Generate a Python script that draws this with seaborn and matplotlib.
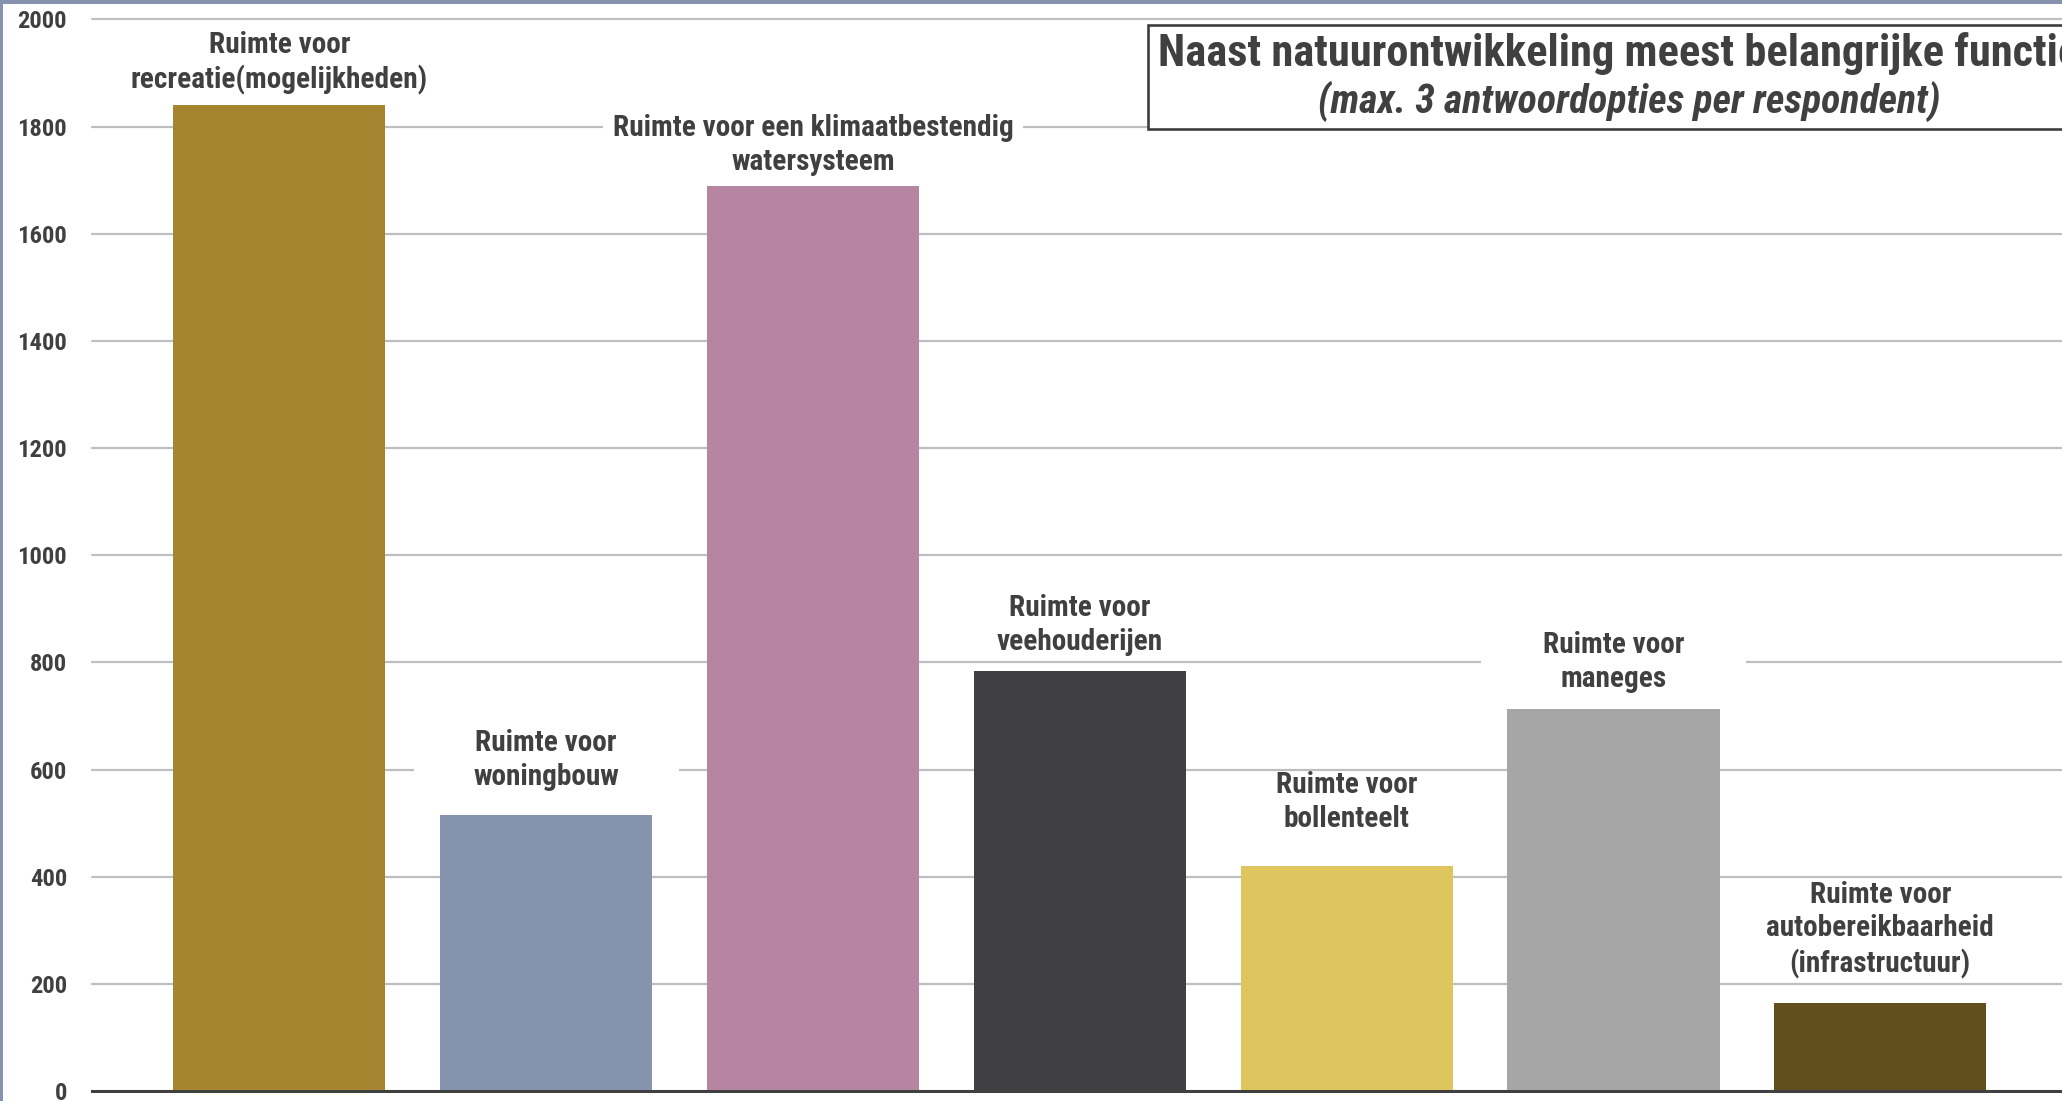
import numpy as np
import pandas as pd
import matplotlib
matplotlib.use("Agg")
import matplotlib.pyplot as plt
import seaborn as sns
from matplotlib import font_manager as fm
from matplotlib.path import Path
from matplotlib.patches import Rectangle

# ---------------- data ----------------
categories = [
    "Ruimte voor\nrecreatie(mogelijkheden)",
    "Ruimte voor\nwoningbouw",
    "Ruimte voor een klimaatbestendig\nwatersysteem",
    "Ruimte voor\nveehouderijen",
    "Ruimte voor\nbollenteelt",
    "Ruimte voor\nmaneges",
    "Ruimte voor\nautobereikbaarheid\n(infrastructuur)",
]
values = [1840, 516, 1690, 784, 420, 713, 165]
bar_colors = ["#A68531", "#8593AE", "#B685A2", "#404042", "#DEC55E", "#A6A6A7", "#614F1F"]
y_ticks = [0, 200, 400, 600, 800, 1000, 1200, 1400, 1600, 1800, 2000]
y_tick_labels = ["0", "200", "400", "600", "800", "1000", "1200", "1400", "1600", "1800", "2000"]
title = "Naast natuurontwikkeling meest belangrijke functies"
subtitle = "(max. 3 antwoordopties per respondent)"

# ---------------- style ----------------
W, H, DPI = 2062, 1101, 100
TEXT = "#404040"
GRID = "#BEBEC2"
FRAME = "#8593AE"
label_gaps_px = [10, 24, 10, 15, 33, 16, 24]   # gap between bar top and its label

sns.set_theme(style="white")
names = {f.name for f in fm.fontManager.ttflist}
narrow = None
for cand in ["Roboto Condensed", "Liberation Sans Narrow", "DejaVu Sans"]:
    if cand in names:
        narrow = cand
        break
plt.rcParams["font.family"] = [narrow, "DejaVu Sans"]

px = 72.0 / DPI  # points per pixel

fig = plt.figure(figsize=(W / DPI, H / DPI), dpi=DPI, facecolor="white")
ax = fig.add_axes([92 / W, 10 / H, (W - 92) / W, (1091 - 19.5) / H])

df = pd.DataFrame({"cat": categories, "val": values})
sns.barplot(data=df, x="cat", y="val", hue="cat", palette=bar_colors,
            legend=False, width=0.795, saturation=1, linewidth=0, ax=ax, zorder=2)

ax.set_xlim(-0.702, 6.681)
ax.set_ylim(0, 2000)
ax.set_xticks([])
ax.set_xlabel("")
ax.set_ylabel("")
ax.set_yticks(y_ticks)
ax.set_yticklabels(y_tick_labels)
ax.tick_params(axis="y", length=0, pad=25 * px, labelsize=24.5 * px, labelcolor=TEXT)
for t in ax.get_yticklabels():
    t.set_fontweight("bold")
ax.set_axisbelow(True)
ax.yaxis.grid(True, color=GRID, linewidth=2.2 * px)
for gl in ax.get_ygridlines():
    gl.set_clip_on(False)
for s in ["left", "right", "top"]:
    ax.spines[s].set_visible(False)
ax.spines["bottom"].set_color(TEXT)
ax.spines["bottom"].set_linewidth(3 * px)
ax.spines["bottom"].set_zorder(5)
ax.patch.set_alpha(0)

MIN_BOX = 265.0


def wide_box(x0, y0, width, height, mutation_size):
    padx = 10.0
    w = max(width + 2 * padx, MIN_BOX)
    cx = x0 + width / 2.0
    l, r = cx - w / 2.0, cx + w / 2.0
    b, t = y0 + 2.0, y0 + height - 6.0
    return Path([(l, b), (r, b), (r, t), (l, t), (l, b)],
                [Path.MOVETO, Path.LINETO, Path.LINETO, Path.LINETO, Path.CLOSEPOLY])


bars = [p for p in ax.patches]
for p, lab, gap in zip(bars, categories, label_gaps_px):
    cx = p.get_x() + p.get_width() / 2.0
    top = p.get_height()
    ax.annotate(lab, xy=(cx, top), xytext=(0, gap * px), textcoords="offset points",
                ha="center", va="bottom", multialignment="center",
                fontsize=29.3 * px, fontweight="bold", color=TEXT, linespacing=1.26,
                bbox=dict(boxstyle=wide_box, facecolor="white", edgecolor="none"),
                zorder=4, annotation_clip=False)

# title box
box_l, box_t, box_b, box_r = 1148, 25, 129, 2110
fig.add_artist(Rectangle((box_l / W, 1 - box_b / H), (box_r - box_l) / W, (box_b - box_t) / H,
                         transform=fig.transFigure, facecolor="white", edgecolor="#3C3C3C",
                         linewidth=2.6 * px, zorder=10))
t1 = fig.text(1629 / W, 1 - 66 / H, title, ha="center", va="baseline", color=TEXT,
              fontweight="bold", fontsize=20, zorder=11)
t2 = fig.text(1629 / W, 1 - 113 / H, subtitle, ha="center", va="baseline", color=TEXT,
              fontweight="bold", fontstyle="italic", fontsize=20, zorder=11)
r = fig.canvas.get_renderer()
for t, target in [(t1, 938.0), (t2, 622.0)]:
    w = t.get_window_extent(renderer=r).width
    t.set_fontsize(20 * target / w)

# frame bands (top and left)
fig.add_artist(Rectangle((0, 1 - 4 / H), 1, 4 / H, transform=fig.transFigure,
                         facecolor=FRAME, edgecolor="none", zorder=20))
fig.add_artist(Rectangle((0, 0), 3 / W, 1, transform=fig.transFigure,
                         facecolor=FRAME, edgecolor="none", zorder=20))

fig.savefig("out.png", dpi=DPI, facecolor="white")
